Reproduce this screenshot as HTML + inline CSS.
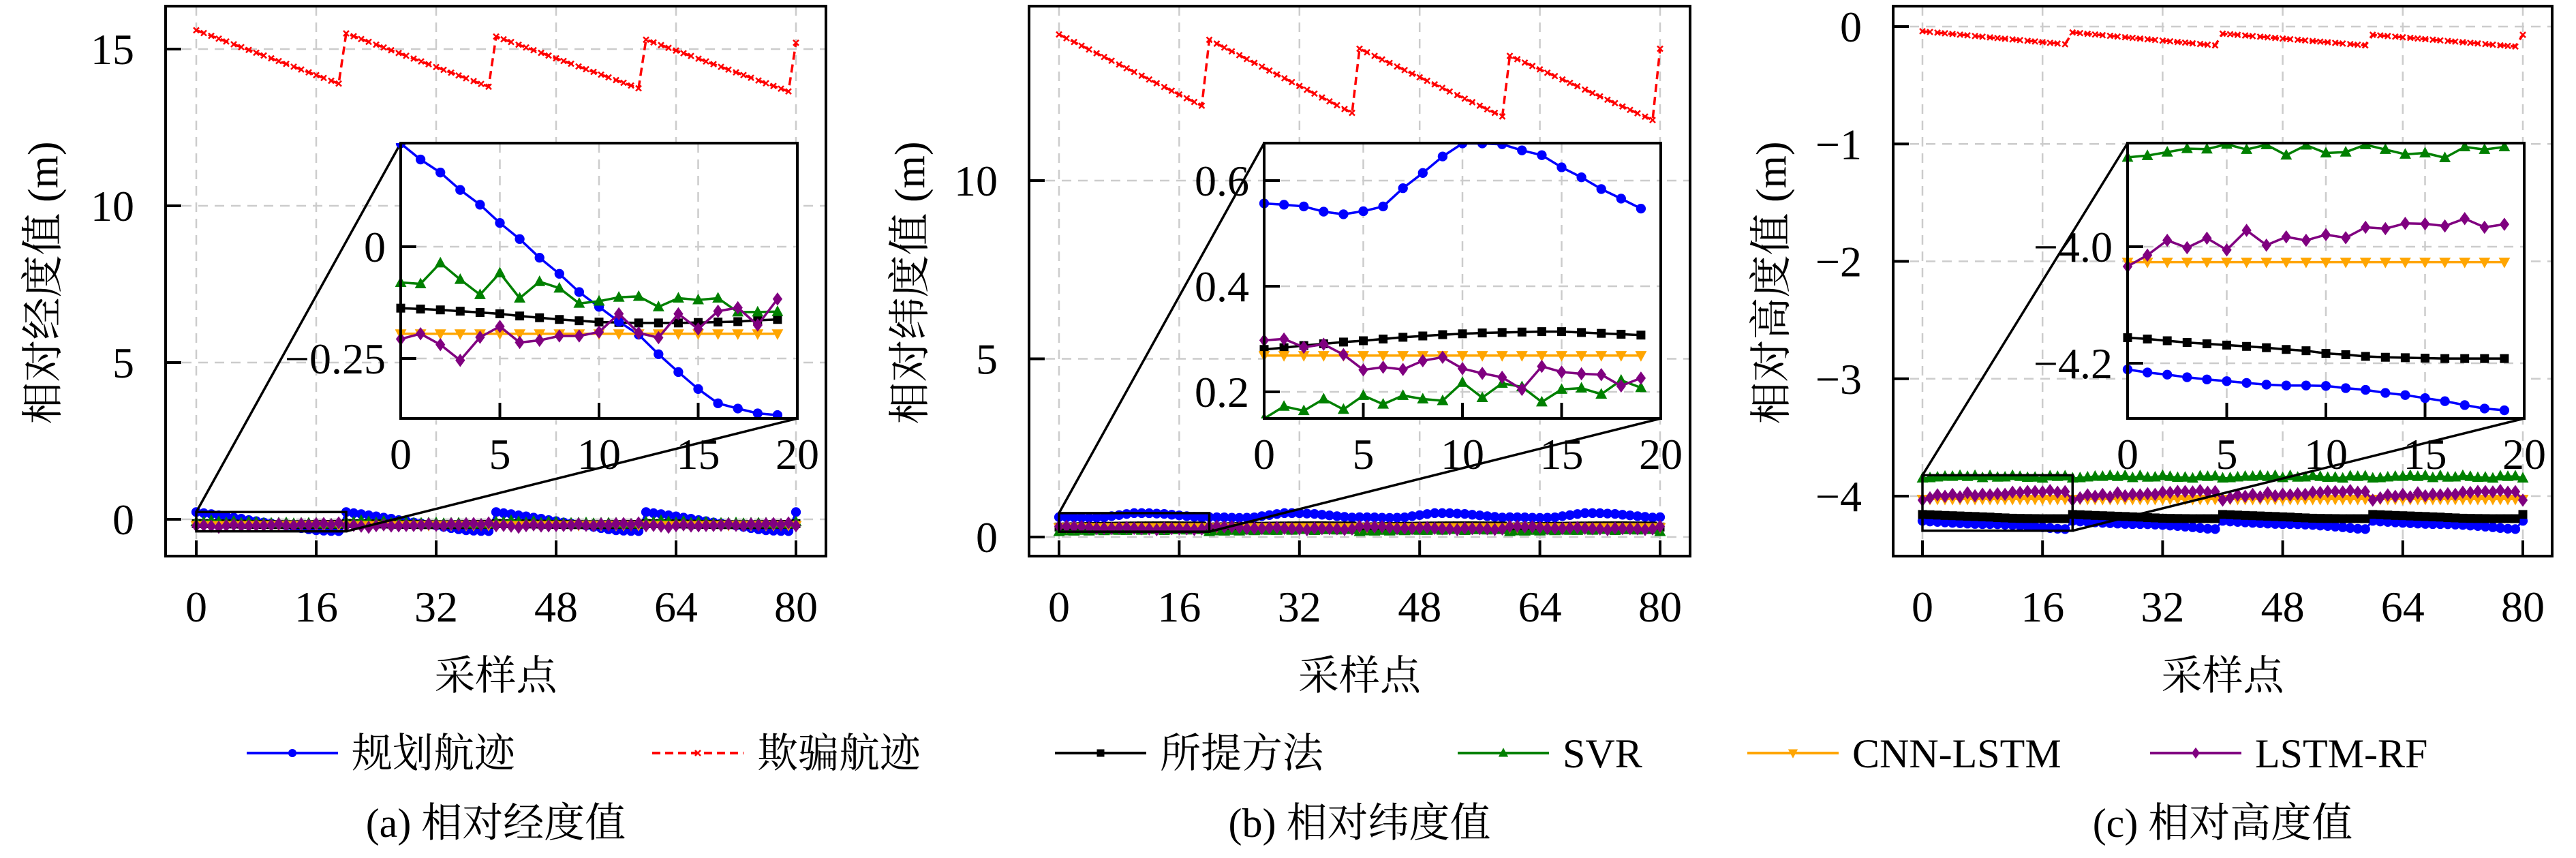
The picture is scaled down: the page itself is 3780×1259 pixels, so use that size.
<!DOCTYPE html>
<html><head><meta charset="utf-8">
<style>
html,body{margin:0;padding:0;background:#fff;}
svg{display:block;}
text{font-family:"Liberation Serif","Noto Serif CJK SC",serif;fill:#000;}
</style></head>
<body>
<svg id="s" xmlns="http://www.w3.org/2000/svg" width="3780" height="1259" viewBox="0 0 3780 1259"></svg>
<script>
const S=document.getElementById('s');
let out='';
const C={blue:'#0000ff',red:'#ff0000',black:'#000',green:'#008000',orange:'#ffa500',purple:'#800080'};
function mk(type,x,y,col,sz){
  const r=sz;
  if(type==='o')return `<circle cx="${x}" cy="${y}" r="${r*0.55}" fill="${col}"/>`;
  if(type==='s')return `<rect x="${x-r*0.5}" y="${y-r*0.5}" width="${r}" height="${r}" fill="${col}"/>`;
  if(type==='^')return `<polygon points="${x},${y-r*0.7} ${x-r*0.65},${y+r*0.5} ${x+r*0.65},${y+r*0.5}" fill="${col}"/>`;
  if(type==='v')return `<polygon points="${x},${y+r*0.7} ${x-r*0.65},${y-r*0.5} ${x+r*0.65},${y-r*0.5}" fill="${col}"/>`;
  if(type==='d')return `<polygon points="${x},${y-r*0.75} ${x+r*0.55},${y} ${x},${y+r*0.75} ${x-r*0.55},${y}" fill="${col}"/>`;
  if(type==='x'){const h=r*0.4;return `<path d="M${x-h},${y-h}L${x+h},${y+h}M${x-h},${y+h}L${x+h},${y-h}" stroke="${col}" stroke-width="2.5"/>`;}
  return '';
}
function series(pts,col,m,sz,dash,lw){
  let d=pts.map((p,i)=>(i?'L':'M')+p[0].toFixed(1)+','+p[1].toFixed(1)).join('');
  let s=`<path d="${d}" fill="none" stroke="${col}" stroke-width="${lw||3}" ${dash?'stroke-dasharray="12,7"':''} stroke-linejoin="round"/>`;
  pts.forEach(p=>s+=mk(m,p[0],p[1],col,sz));
  return s;
}
const P=[
 {L:243,R:1212,x0:288,x80:1168,ya:[0,762],yb:[15,72],yt:[0,5,10,15],yl:'相对经度值 (m)',ylx:62,cap:'(a) 相对经度值',
  iL:588,iR:1170,iya:[0,362],iyb:[-0.25,526],iyt:[[0,'0'],[-0.25,'−0.25']],
  red:{st:[15.6,15.5,15.4,15.3],en:[13.9,13.8,13.75,13.65],last:15.2},
  d:{blue:[330,367,397,437,471,513,550,593,630,672,706,740,770,815,856,895,928,940,951,955],
     green:[650,653,605,643,678,628,686,648,663,698,693,684,682,706,686,690,686,718,718,717],
     black:[709,711,713,716,719,722,727,731,735,738,741,742,743,743,743,742,741,740,737,735],
     orange:Array(20).fill(768),
     purple:[780,768,793,829,776,751,788,783,773,773,764,722,766,777,722,757,716,708,748,688]}},
 {L:1510,R:2480,x0:1554,x80:2436,ya:[0,788],yb:[10,265],yt:[0,5,10],yl:'相对纬度值 (m)',ylx:1334,cap:'(b) 相对纬度值',
  iL:1855,iR:2437,iya:[0.6,265],iyb:[0.2,575],iyt:[[0.6,'0.6'],[0.4,'0.4'],[0.2,'0.2']],
  red:{st:[14.1,13.95,13.7,13.5],en:[12.1,11.9,11.8,11.7],last:13.7},
  d:{blue:[468,471,475,487,493,486,475,433,398,360,330,330,332,346,357,385,408,435,457,480],
     black:[804,800,795,791,787,784,780,776,773,770,768,766,765,764,763,763,765,767,769,771],
     orange:Array(20).fill(818),
     purple:[783,780,799,792,816,851,845,850,830,822,848,859,868,896,843,856,860,862,888,870],
     green:[963,935,945,918,942,910,930,910,918,922,880,915,882,890,925,896,893,907,875,892]}},
 {L:2778,R:3745,x0:2821,x80:3702,ya:[0,39],yb:[-4,728],yt:[0,-1,-2,-3,-4],yl:'相对高度值 (m)',ylx:2598,cap:'(c) 相对高度值',
  iL:3122,iR:3704,iya:[-4.0,362],iyb:[-4.2,533],iyt:[[-4.0,'−4.0'],[-4.2,'−4.2']],
  red:{st:[-0.04,-0.05,-0.06,-0.07],en:[-0.15,-0.16,-0.16,-0.17],last:-0.07},
  d:{green:[362,358,350,342,343,332,344,333,357,334,352,350,333,344,355,352,363,338,344,338],
     purple:[613,587,553,570,548,575,530,564,545,553,540,547,523,526,514,515,520,503,523,516],
     orange:Array(20).fill(603),
     black:[777,780,784,788,791,794,797,800,804,807,813,816,820,822,823,824,825,825,825,825],
     blue:[850,857,862,868,873,877,881,885,887,887,888,893,897,904,909,916,923,932,940,944]}}
];
const T=9,B=816,iT=210,iB=614,ZF=1.568;
const order=[['black','s'],['blue','o'],['green','^'],['orange','v'],['purple','d']];
P.forEach((p,pi)=>{
  const mx=d=>p.x0+d*(p.x80-p.x0)/80;
  const my=v=>p.ya[1]+(v-p.ya[0])*(p.yb[1]-p.ya[1])/(p.yb[0]-p.ya[0]);
  const ix=d=>p.iL+d*(p.iR-p.iL)/20;
  const iy=v=>p.iya[1]+(v-p.iya[0])*(p.iyb[1]-p.iya[1])/(p.iyb[0]-p.iya[0]);
  const iv=y=>p.iya[0]+(y-p.iya[1])*(p.iyb[0]-p.iya[0])/(p.iyb[1]-p.iya[1]);
  out+=`<clipPath id="c${pi}"><rect x="${p.L}" y="${T}" width="${p.R-p.L}" height="${B-T}"/></clipPath>`;
  out+=`<clipPath id="ci${pi}"><rect x="${p.iL-8}" y="${iT}" width="${p.iR-p.iL+16}" height="${iB-iT}"/></clipPath>`;
  let g='';
  for(let k=0;k<=80;k+=16)g+=`<line x1="${mx(k)}" y1="${T}" x2="${mx(k)}" y2="${B}"/>`;
  p.yt.forEach(v=>g+=`<line x1="${p.L}" y1="${my(v)}" x2="${p.R}" y2="${my(v)}"/>`);
  out+=`<g stroke="#cccccc" stroke-width="2.5" stroke-dasharray="14,10">${g}</g>`;
  let ms='';
  let red=[];
  for(let k=0;k<4;k++)for(let i=0;i<20;i++)red.push([mx(20*k+i),my(p.red.st[k]+(p.red.en[k]-p.red.st[k])*i/19)]);
  red.push([mx(80),my(p.red.last)]);
  ms+=series(red,C.red,'x',10,true,3.5);
  const mainOrder=[['blue','o'],['black','s'],['green','^'],['orange','v'],['purple','d']];
  mainOrder.forEach(([c,m])=>{
    const arr=p.d[c].map(y=>iv(y/ZF));
    let pts=[];
    for(let k=0;k<4;k++)for(let i=0;i<20;i++)pts.push([mx(20*k+i),my(arr[i])]);
    pts.push([mx(80),my(arr[0])]);
    ms+=series(pts,C[c],m,13,false,3);
  });
  out+=`<g clip-path="url(#c${pi})">${ms}</g>`;
  const rT=my(iv(iT)),rB=my(iv(iB));
  out+=`<rect x="${mx(0)}" y="${rT}" width="${mx(20)-mx(0)}" height="${rB-rT}" fill="none" stroke="#000" stroke-width="3.5"/>`;
  out+=`<line x1="${mx(0)}" y1="${rT}" x2="${p.iL}" y2="${iT}" stroke="#000" stroke-width="3.5"/>`;
  out+=`<line x1="${mx(20)}" y1="${rB}" x2="${p.iR}" y2="${iB}" stroke="#000" stroke-width="3.5"/>`;
  out+=`<rect x="${p.L}" y="${T}" width="${p.R-p.L}" height="${B-T}" fill="none" stroke="#000" stroke-width="4"/>`;
  for(let k=0;k<=80;k+=16){out+=`<line x1="${mx(k)}" y1="${B}" x2="${mx(k)}" y2="${B-23}" stroke="#000" stroke-width="4"/>`;
    out+=`<text x="${mx(k)}" y="${912}" font-size="64" text-anchor="middle">${k}</text>`;}
  p.yt.forEach(v=>{out+=`<line x1="${p.L}" y1="${my(v)}" x2="${p.L+23}" y2="${my(v)}" stroke="#000" stroke-width="4"/>`;
    out+=`<text x="${p.L-46}" y="${my(v)+22}" font-size="64" text-anchor="end">${v<0?'−'+(-v):v}</text>`;});
  out+=`<rect x="${p.iL}" y="${iT}" width="${p.iR-p.iL}" height="${iB-iT}" fill="#fff"/>`;
  let ig='';
  for(let k=0;k<=20;k+=5)ig+=`<line x1="${ix(k)}" y1="${iT}" x2="${ix(k)}" y2="${iB}"/>`;
  p.iyt.forEach(([v])=>ig+=`<line x1="${p.iL}" y1="${iy(v)}" x2="${p.iR}" y2="${iy(v)}"/>`);
  out+=`<g stroke="#cccccc" stroke-width="2.5" stroke-dasharray="14,10">${ig}</g>`;
  let is='';
  order.forEach(([c,m])=>{
    const pts=p.d[c].map((y,i)=>[ix(i),y/ZF]);
    is+=series(pts,C[c],m,13,false,3.5);
  });
  out+=`<g clip-path="url(#ci${pi})">${is}</g>`;
  out+=`<rect x="${p.iL}" y="${iT}" width="${p.iR-p.iL}" height="${iB-iT}" fill="none" stroke="#000" stroke-width="4"/>`;
  for(let k=0;k<=20;k+=5){out+=`<line x1="${ix(k)}" y1="${iB}" x2="${ix(k)}" y2="${iB-23}" stroke="#000" stroke-width="4"/>`;
    out+=`<text x="${ix(k)}" y="${688}" font-size="64" text-anchor="middle">${k}</text>`;}
  p.iyt.forEach(([v,l])=>{out+=`<line x1="${p.iL}" y1="${iy(v)}" x2="${p.iL+23}" y2="${iy(v)}" stroke="#000" stroke-width="4"/>`;
    out+=`<text x="${p.iL-22}" y="${iy(v)+22}" font-size="64" text-anchor="end">${l}</text>`;});
  const cx=(p.L+p.R)/2;
  out+=`<text x="${cx}" y="1012" font-size="60" text-anchor="middle">采样点</text>`;
  out+=`<text transform="translate(${p.ylx+22},${415}) rotate(-90)" font-size="62" text-anchor="middle">${p.yl}</text>`;
  out+=`<text x="${cx}" y="1228" font-size="60" text-anchor="middle">${p.cap}</text>`;
});
const LG=[[362,'blue','o','规划航迹'],[957,'red','x','欺骗航迹'],[1548,'black','s','所提方法'],[2139,'green','^','SVR'],[2564,'orange','v','CNN-LSTM'],[3155,'purple','d','LSTM-RF']];
LG.forEach(([x,c,m,t])=>{
  out+=series([[x,1105],[x+134,1105]],C[c],'',0,c==='red',4);
  out+=mk(m,x+67,1105,C[c],c==='red'?10:11);
  out+=`<text x="${x+154}" y="1126" font-size="60">${t}</text>`;
});
S.innerHTML=out;
</script>
</body></html>
